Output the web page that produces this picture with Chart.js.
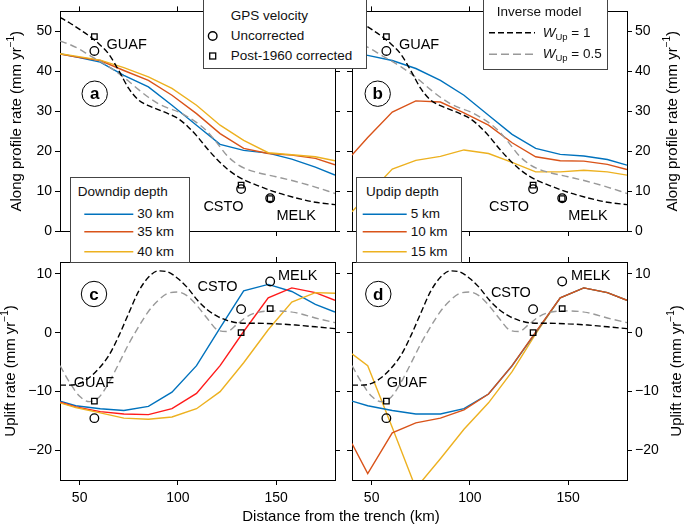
<!DOCTYPE html>
<html>
<head>
<meta charset="utf-8">
<script src="https://cdn.jsdelivr.net/npm/chart.js@4.4.1/dist/chart.umd.min.js"></script>
<style>
  body { margin: 0; background: #fff; }
  #wrap { position: relative; width: 685px; height: 527px; overflow: hidden;
          font-family: 'Liberation Sans', Arial, sans-serif; color: #111; }
  #wrap canvas { position: absolute; left: 0; top: 0; }
  .lg { position: absolute; background: #fff; border: 1px solid #444; box-sizing: border-box; }
  .lg svg { position: absolute; left: 0; top: 0; }
  .t { position: absolute; font-size: 13.5px; line-height: 16px; white-space: nowrap; }
  .t sub { font-size: 9.5px; vertical-align: -3px; line-height: 0; }
</style>
</head>
<body>
<div id="wrap">
  <canvas id="ca" width="685" height="527"></canvas>
  <canvas id="cb" width="685" height="527"></canvas>
  <canvas id="cc" width="685" height="527"></canvas>
  <canvas id="cd" width="685" height="527"></canvas>

  <div class="lg" style="left:203px;top:-1px;width:164px;height:70px">
    <svg width="162" height="68">
      <circle cx="8.7" cy="36" r="4.3" fill="none" stroke="#000" stroke-width="1.4"/>
      <rect x="5.7" y="53" width="6" height="6" fill="none" stroke="#000" stroke-width="1.3"/>
    </svg>
    <div class="t" style="left:26.7px;top:7.5px">GPS velocity</div>
    <div class="t" style="left:26.7px;top:28px">Uncorrected</div>
    <div class="t" style="left:26.7px;top:48px">Post-1960 corrected</div>
  </div>

  <div class="lg" style="left:483px;top:-1px;width:125px;height:71px">
    <svg width="123" height="69">
      <line x1="5" y1="32.7" x2="51" y2="32.7" stroke="#000" stroke-width="1.4" stroke-dasharray="6 3"/>
      <line x1="5" y1="54.3" x2="51" y2="54.3" stroke="#999" stroke-width="1.4" stroke-dasharray="8 4"/>
    </svg>
    <div class="t" style="left:12.7px;top:3.7px">Inverse model</div>
    <div class="t" style="left:58.7px;top:24.7px"><i>W</i><sub>Up</sub> = 1</div>
    <div class="t" style="left:58.7px;top:46.3px"><i>W</i><sub>Up</sub> = 0.5</div>
  </div>

  <div class="lg" style="left:70px;top:177px;width:120px;height:86px">
    <svg width="118" height="84">
      <line x1="13.3" y1="36.3" x2="62.3" y2="36.3" stroke="#0072BD" stroke-width="1.5"/>
      <line x1="13.3" y1="53.7" x2="62.3" y2="53.7" stroke="#D95319" stroke-width="1.5"/>
      <line x1="13.3" y1="73.7" x2="62.3" y2="73.7" stroke="#EDB120" stroke-width="1.5"/>
    </svg>
    <div class="t" style="left:6.7px;top:5.7px">Downdip depth</div>
    <div class="t" style="left:66.3px;top:28.3px">30 km</div>
    <div class="t" style="left:66.3px;top:45.7px">35 km</div>
    <div class="t" style="left:66.3px;top:65.7px">40 km</div>
  </div>

  <div class="lg" style="left:356px;top:177px;width:106px;height:86px">
    <svg width="104" height="84">
      <line x1="5.7" y1="36.3" x2="49.7" y2="36.3" stroke="#0072BD" stroke-width="1.5"/>
      <line x1="5.7" y1="53.7" x2="49.7" y2="53.7" stroke="#D95319" stroke-width="1.5"/>
      <line x1="5.7" y1="73.7" x2="49.7" y2="73.7" stroke="#EDB120" stroke-width="1.5"/>
    </svg>
    <div class="t" style="left:9px;top:5.7px">Updip depth</div>
    <div class="t" style="left:53.7px;top:28.3px">5 km</div>
    <div class="t" style="left:53.7px;top:45.7px">10 km</div>
    <div class="t" style="left:53.7px;top:65.7px">15 km</div>
  </div>
</div>

<script>
// ---- data ----
// nodes of the forward models (km from trench)
const distance = [40, 48, 60.5, 72.5, 85, 97, 109.5, 121.5, 133.5, 146, 158, 170, 180];

// along profile rate, downdip depth (panel a)
const alongDown30 = [44.4, 43.6, 42.3, 39.0, 36.1, 31.5, 26.5, 21.7, 20.2, 19.5, 18.0, 16.0, 14.0];
const alongDown35 = [44.3, 43.6, 42.7, 40.2, 37.7, 34.0, 29.4, 24.4, 20.7, 19.4, 19.0, 18.2, 16.6];
const alongDown40 = [44.4, 43.8, 42.8, 40.9, 38.6, 35.7, 31.5, 26.5, 22.7, 19.6, 19.1, 18.6, 17.6];

// along profile rate, updip depth (panel b)
const alongUp5  = [44.4, 44.0, 42.7, 40.7, 37.7, 34.0, 29.0, 24.2, 20.7, 19.2, 18.8, 17.9, 16.5];
const alongUp10 = [19.0, 23.4, 29.8, 32.6, 32.3, 29.6, 26.5, 22.1, 18.6, 17.6, 17.5, 16.7, 15.4];
const alongUp15 = [4.8, 9.0, 15.5, 17.7, 18.7, 20.3, 19.4, 17.2, 14.8, 14.8, 15.2, 14.8, 14.0];

// uplift rate, downdip depth (panel c)
const upliftDown30 = [-11.6, -12.4, -12.9, -13.2, -12.5, -10.1, -5.6, 0.8, 7.1, 8.2, 7.0, 4.8, 3.5];
const upliftDown35 = [-11.8, -12.6, -13.4, -13.8, -13.9, -12.9, -10.3, -5.6, 0.2, 5.9, 7.6, 6.8, 5.5];
const upliftDown40 = [-11.9, -12.7, -13.6, -14.5, -14.7, -14.3, -12.9, -10.0, -5.1, 0.5, 5.2, 6.8, 6.7];

// uplift rate, updip depth (panel d)
const upliftUp5  = [-11.6, -12.4, -13.2, -13.8, -13.8, -12.9, -10.4, -5.6, 0.0, 5.9, 7.6, 6.8, 5.5];
const upliftUp10 = [-18.8, -23.9, -17.0, -15.3, -14.5, -13.1, -10.4, -5.6, 0.1, 5.9, 7.6, 6.8, 5.5];
const upliftUp15 = [-3.6, -5.6, -16.1, -26.4, -21.4, -16.4, -11.9, -6.6, -0.2, 5.9, 7.6, 6.8, 5.5];

// inverse model curves
const modelDist = [40, 45, 50, 55, 60, 65, 70, 75, 80, 85, 90, 95, 100, 105, 110, 115, 120, 125, 130, 135, 140, 150, 160, 170, 180];
const alongW1  = [53.5, 52.1, 50.5, 48.8, 46.8, 44.2, 40.1, 35.7, 32.8, 31.4, 30.4, 29.4, 28.2, 26.2, 23.6, 20.6, 17.9, 15.6, 13.8, 12.5, 11.5, 9.7, 8.3, 7.2, 6.6];
const alongW05 = [47.6, 46.7, 45.5, 44.0, 42.6, 41.1, 39.4, 37.5, 35.4, 33.5, 31.9, 30.8, 29.9, 28.6, 27.0, 24.9, 22.0, 18.9, 16.8, 15.5, 14.7, 13.6, 12.4, 11.0, 9.4];
const upliftW1  = [-8.9, -8.9, -8.6, -7.6, -6.0, -3.8, -0.5, 3.3, 7.0, 9.4, 10.5, 10.3, 9.2, 7.6, 5.5, 3.9, 2.8, 2.1, 1.7, 1.6, 1.6, 1.5, 1.3, 1.0, 0.7];
const upliftW05 = [-5.6, -8.5, -10.8, -11.7, -10.9, -8.4, -5.2, -1.9, 1.0, 3.6, 5.5, 6.7, 6.9, 6.2, 4.5, 2.4, 0.5, 0.2, 1.4, 2.7, 3.4, 3.7, 3.4, 2.5, 1.7];

// GPS stations
const stations     = ['GUAF', 'CSTO', 'MELK'];
const stationDist  = [57.5, 132.2, 147];
const alongUncorr  = [45.1, 10.5, 8.2];
const alongCorr    = [48.7, 11.5, 8.1];
const upliftUncorr = [-14.5, 4.0, 8.7];
const upliftCorr   = [-11.6, 0.0, 4.1];

// ticks
const xTicks = [50, 100, 150];
const alongTicks = [0, 10, 20, 30, 40, 50];
const upliftTicks = [-20, -10, 0, 10];

// ---- style ----
const W = 685, H = 527;
const FAMILY = "'Liberation Sans', Arial, sans-serif";
const BLUE = '#0072BD', ORANGE = '#D95319', YELLOW = '#EDB120', RED = '#FF1A1A', GREY = '#999999';
const LABEL_SIZE = 40;   // room kept for tick labels (they are clipped to the axis box)

Chart.defaults.font.family = FAMILY;
Chart.defaults.font.size = 14;
Chart.defaults.color = '#000';

const pts = (xs, ys) => xs.map((x, i) => ({ x: x, y: ys[i] }));

function line(ys, color) {
  return { data: pts(distance, ys), borderColor: color, borderWidth: 1.4, pointRadius: 0, tension: 0 };
}
function model(ys, color, dash) {
  return { data: pts(modelDist, ys), borderColor: color, borderWidth: 1.4, pointRadius: 0,
           borderDash: dash, cubicInterpolationMode: 'monotone' };
}
function marker(ys, style, r) {
  return { data: pts(stationDist, ys), showLine: false, pointStyle: style, pointRadius: r,
           borderColor: '#000', borderWidth: 1.3, backgroundColor: 'rgba(0,0,0,0)' };
}

function axis(position, min, max, ticks, show) {
  const size = show ? LABEL_SIZE : 5;
  const horiz = position === 'top' || position === 'bottom';
  return {
    type: 'linear', position: position, min: min, max: max,
    afterBuildTicks: s => { s.ticks = ticks.map(v => ({ value: v })); },
    afterFit: s => { if (s.isHorizontal()) s.height = size; else s.width = size; },
    grid: { drawOnChartArea: false, tickLength: 5, color: '#000', lineWidth: 1 },
    border: { display: true, color: '#000', width: 1 },
    ticks: { display: show, padding: horiz ? 5 : 3, callback: v => v < 0 ? '\u2212' + Math.abs(v) : String(v) }
  };
}

function drawRich(ctx, parts, cx, cy, size) {
  const big = size + 'px ' + FAMILY, small = Math.round(size * 0.68) + 'px ' + FAMILY;
  let w = 0;
  parts.forEach(p => { ctx.font = p.sup ? small : big; p.w = ctx.measureText(p.t).width; w += p.w; });
  ctx.save();
  ctx.translate(cx, cy);
  ctx.rotate(-Math.PI / 2);
  ctx.textAlign = 'left';
  ctx.textBaseline = 'middle';
  let x = -w / 2;
  parts.forEach(p => { ctx.font = p.sup ? small : big; ctx.fillText(p.t, x, p.sup ? -size * 0.38 : 0); x += p.w; });
  ctx.restore();
}

const panelText = {
  id: 'panelText',
  afterDatasetsDraw(chart, args, o) {
    const { ctx, chartArea: a } = chart;
    const sx = chart.scales.x, sy = chart.scales.y;
    ctx.save();
    ctx.fillStyle = '#000';
    ctx.textBaseline = 'middle';
    ctx.textAlign = 'left';
    ctx.font = '14.5px ' + FAMILY;
    o.labels.forEach(l => ctx.fillText(l.text, sx.getPixelForValue(l.x), sy.getPixelForValue(l.y)));

    const cx = a.left + o.letter.dx, cy = a.top + o.letter.dy;
    ctx.beginPath();
    ctx.arc(cx, cy, 12.7, 0, Math.PI * 2);
    ctx.lineWidth = 1;
    ctx.strokeStyle = '#000';
    ctx.stroke();
    ctx.font = 'bold 17px ' + FAMILY;
    ctx.textAlign = 'center';
    ctx.fillText(o.letter.text, cx, cy + 1);

    drawRich(ctx, [{ t: o.yTitle + ' (mm yr' }, { t: '\u22121', sup: true }, { t: ')' }],
             o.yTitleX, (a.top + a.bottom) / 2, 15);

    if (o.xTitle) {
      ctx.font = '15px ' + FAMILY;
      ctx.textAlign = 'center';
      ctx.fillText(o.xTitle.text, o.xTitle.x, o.xTitle.y);
    }
    ctx.restore();
  }
};

function makeChart(id, area, cfg) {
  const left = cfg.ySide === 'left' ? LABEL_SIZE : 5;
  const right = cfg.ySide === 'right' ? LABEL_SIZE : 5;
  const bottom = cfg.xLabels ? LABEL_SIZE : 5;
  new Chart(document.getElementById(id), {
    type: 'line',
    data: { datasets: cfg.datasets },
    options: {
      responsive: false, animation: false, events: [],
      layout: { padding: { left: area.l - left, top: area.t - 5, right: W - area.r - right, bottom: H - area.b - bottom } },
      plugins: { legend: { display: false }, tooltip: { enabled: false }, panelText: cfg.text },
      scales: {
        x: axis('bottom', 40, 180, xTicks, cfg.xLabels),
        x2: axis('top', 40, 180, xTicks, false),
        y: axis(cfg.ySide, cfg.yMin, cfg.yMax, cfg.yTicks, true),
        y2: axis(cfg.ySide === 'left' ? 'right' : 'left', cfg.yMin, cfg.yMax, cfg.yTicks, false)
      }
    },
    plugins: [panelText]
  });
}

const lab = (pos) => pos.map((p, i) => ({ text: stations[i], x: p[0], y: p[1] }));

makeChart('ca', { l: 60, t: 11, r: 335, b: 231 }, {
  ySide: 'left', yMin: 0, yMax: 55, yTicks: alongTicks, xLabels: false,
  datasets: [
    marker(alongCorr, 'rect', 3.9), marker(alongUncorr, 'circle', 4.3),
    model(alongW1, '#000', [6, 3]), model(alongW05, GREY, [7, 4]),
    line(alongDown40, YELLOW), line(alongDown35, ORANGE), line(alongDown30, BLUE)
  ],
  text: { labels: lab([[63.7, 46.5], [113, 5.9], [150.2, 3.75]]), letter: { text: 'a', dx: 34.7, dy: 82.3 },
          yTitle: 'Along profile rate', yTitleX: 17 }
});

makeChart('cb', { l: 352, t: 11, r: 627, b: 231 }, {
  ySide: 'right', yMin: 0, yMax: 55, yTicks: alongTicks, xLabels: false,
  datasets: [
    marker(alongCorr, 'rect', 3.9), marker(alongUncorr, 'circle', 4.3),
    model(alongW1, '#000', [6, 3]), model(alongW05, GREY, [7, 4]),
    line(alongUp5, BLUE), line(alongUp10, ORANGE), line(alongUp15, YELLOW)
  ],
  text: { labels: lab([[63.9, 46.5], [109.8, 5.9], [150.1, 3.75]]), letter: { text: 'b', dx: 25.7, dy: 82.3 },
          yTitle: 'Along profile rate', yTitleX: 673 }
});

makeChart('cc', { l: 60, t: 262, r: 335, b: 480 }, {
  ySide: 'left', yMin: -25, yMax: 12, yTicks: upliftTicks, xLabels: true,
  datasets: [
    marker(upliftCorr, 'rect', 3.9), marker(upliftUncorr, 'circle', 4.3),
    model(upliftW1, '#000', [6, 3]), model(upliftW05, GREY, [7, 4]),
    line(upliftDown40, YELLOW), line(upliftDown35, RED), line(upliftDown30, BLUE)
  ],
  text: { labels: lab([[47, -8.6], [110, 7.8], [151, 9.65]]), letter: { text: 'c', dx: 34, dy: 32 },
          yTitle: 'Uplift rate', yTitleX: 10.5,
          xTitle: { text: 'Distance from the trench (km)', x: 341, y: 517 } }
});

makeChart('cd', { l: 352, t: 262, r: 627, b: 480 }, {
  ySide: 'right', yMin: -25, yMax: 12, yTicks: upliftTicks, xLabels: true,
  datasets: [
    marker(upliftCorr, 'rect', 3.9), marker(upliftUncorr, 'circle', 4.3),
    model(upliftW1, '#000', [6, 3]), model(upliftW05, GREY, [7, 4]),
    line(upliftUp10, ORANGE), line(upliftUp5, BLUE), line(upliftUp15, YELLOW)
  ],
  text: { labels: lab([[57.7, -8.6], [110.7, 6.8], [151.5, 9.65]]), letter: { text: 'd', dx: 26.3, dy: 32 },
          yTitle: 'Uplift rate', yTitleX: 676.5 }
});
</script>
</body>
</html>
